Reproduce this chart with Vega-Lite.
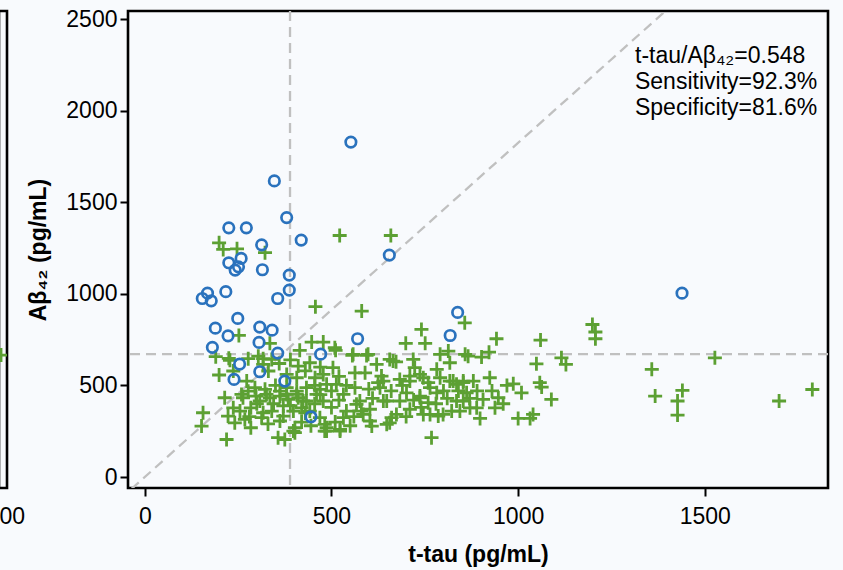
{
  "$schema": "https://vega.github.io/schema/vega-lite/v6.json",
  "autosize": {"type": "pad"},
  "padding": {"left": -3, "top": 6, "right": 14, "bottom": 5},
  "background": "#f8fafd",
  "bounds": "flush",
  "spacing": 121,
  "config": {
    "view": {"stroke": "black", "strokeWidth": 2.6, "fill": null},
    "axis": {
      "domain": false, "grid": false, "tickColor": "black", "tickWidth": 2, "tickSize": 8,
      "labelFont": "Liberation Sans", "labelFontSize": 23, "labelColor": "black",
      "titleFont": "Liberation Sans", "titleFontSize": 23, "titleFontWeight": "bold", "titleColor": "black"
    }
  },
  "datasets": {
    "pts": [
      {"t":552,"a":1829,"g":"non-AD"},{"t":347,"a":1617,"g":"non-AD"},{"t":380,"a":1417,"g":"non-AD"},{"t":225,"a":1361,"g":"non-AD"},
      {"t":272,"a":1361,"g":"non-AD"},{"t":419,"a":1294,"g":"non-AD"},{"t":313,"a":1268,"g":"non-AD"},{"t":258,"a":1194,"g":"non-AD"},
      {"t":225,"a":1170,"g":"non-AD"},{"t":251,"a":1148,"g":"non-AD"},{"t":242,"a":1130,"g":"non-AD"},{"t":315,"a":1132,"g":"non-AD"},
      {"t":387,"a":1103,"g":"non-AD"},{"t":655,"a":1212,"g":"non-AD"},{"t":387,"a":1021,"g":"non-AD"},{"t":168,"a":1004,"g":"non-AD"},
      {"t":154,"a":975,"g":"non-AD"},{"t":178,"a":962,"g":"non-AD"},{"t":217,"a":1012,"g":"non-AD"},{"t":356,"a":975,"g":"non-AD"},
      {"t":249,"a":866,"g":"non-AD"},{"t":189,"a":813,"g":"non-AD"},{"t":308,"a":819,"g":"non-AD"},{"t":341,"a":802,"g":"non-AD"},
      {"t":223,"a":771,"g":"non-AD"},{"t":570,"a":755,"g":"non-AD"},{"t":306,"a":735,"g":"non-AD"},{"t":181,"a":708,"g":"non-AD"},
      {"t":356,"a":677,"g":"non-AD"},{"t":471,"a":671,"g":"non-AD"},{"t":254,"a":617,"g":"non-AD"},{"t":308,"a":575,"g":"non-AD"},
      {"t":838,"a":899,"g":"non-AD"},{"t":818,"a":773,"g":"non-AD"},{"t":239,"a":533,"g":"non-AD"},{"t":375,"a":524,"g":"non-AD"},
      {"t":445,"a":329,"g":"non-AD"},{"t":1439,"a":1004,"g":"non-AD"},
      {"t":199,"a":1279,"g":"AD"},{"t":210,"a":1243,"g":"AD"},{"t":247,"a":1246,"g":"AD"},{"t":322,"a":1225,"g":"AD"},
      {"t":522,"a":1319,"g":"AD"},{"t":659,"a":1319,"g":"AD"},{"t":457,"a":930,"g":"AD"},{"t":581,"a":906,"g":"AD"},
      {"t":741,"a":806,"g":"AD"},{"t":252,"a":773,"g":"AD"},{"t":699,"a":730,"g":"AD"},{"t":751,"a":730,"g":"AD"},
      {"t":447,"a":737,"g":"AD"},{"t":478,"a":737,"g":"AD"},{"t":335,"a":730,"g":"AD"},{"t":415,"a":692,"g":"AD"},
      {"t":511,"a":692,"g":"AD"},{"t":190,"a":657,"g":"AD"},{"t":225,"a":648,"g":"AD"},{"t":277,"a":646,"g":"AD"},
      {"t":317,"a":646,"g":"AD"},{"t":556,"a":664,"g":"AD"},{"t":594,"a":664,"g":"AD"},
      {"t":857,"a":842,"g":"AD"},{"t":1199,"a":833,"g":"AD"},{"t":1207,"a":792,"g":"AD"},{"t":1207,"a":755,"g":"AD"},
      {"t":942,"a":755,"g":"AD"},{"t":1060,"a":748,"g":"AD"},{"t":922,"a":682,"g":"AD"},{"t":866,"a":660,"g":"AD"},
      {"t":902,"a":655,"g":"AD"},{"t":1116,"a":651,"g":"AD"},{"t":1128,"a":615,"g":"AD"},{"t":1049,"a":618,"g":"AD"},
      {"t":1527,"a":651,"g":"AD"},{"t":1358,"a":588,"g":"AD"},{"t":924,"a":542,"g":"AD"},{"t":987,"a":509,"g":"AD"},
      {"t":1058,"a":515,"g":"AD"},{"t":1063,"a":491,"g":"AD"},{"t":1009,"a":460,"g":"AD"},{"t":1367,"a":442,"g":"AD"},
      {"t":1440,"a":473,"g":"AD"},{"t":1427,"a":415,"g":"AD"},{"t":1427,"a":338,"g":"AD"},{"t":1699,"a":415,"g":"AD"},
      {"t":1788,"a":478,"g":"AD"},{"t":1089,"a":424,"g":"AD"},{"t":947,"a":433,"g":"AD"},{"t":938,"a":378,"g":"AD"},
      {"t":906,"a":424,"g":"AD"},{"t":898,"a":320,"g":"AD"},{"t":1000,"a":320,"g":"AD"},{"t":1032,"a":320,"g":"AD"},
      {"t":1040,"a":342,"g":"AD"},{"t":853,"a":515,"g":"AD"},{"t":862,"a":460,"g":"AD"},{"t":835,"a":415,"g":"AD"},
      {"t":844,"a":360,"g":"AD"},{"t":871,"a":378,"g":"AD"},{"t":826,"a":524,"g":"AD"},
      {"t":509,"a":706,"g":"AD"},{"t":558,"a":670,"g":"AD"},{"t":598,"a":670,"g":"AD"},{"t":656,"a":642,"g":"AD"},
      {"t":673,"a":629,"g":"AD"},{"t":719,"a":642,"g":"AD"},{"t":723,"a":597,"g":"AD"},{"t":782,"a":588,"g":"AD"},
      {"t":791,"a":670,"g":"AD"},{"t":813,"a":688,"g":"AD"},{"t":817,"a":624,"g":"AD"},{"t":858,"a":670,"g":"AD"},
      {"t":625,"a":515,"g":"AD"},{"t":634,"a":551,"g":"AD"},{"t":683,"a":533,"g":"AD"},{"t":710,"a":551,"g":"AD"},
      {"t":737,"a":560,"g":"AD"},{"t":759,"a":515,"g":"AD"},{"t":817,"a":524,"g":"AD"},{"t":835,"a":506,"g":"AD"},
      {"t":701,"a":460,"g":"AD"},{"t":737,"a":442,"g":"AD"},{"t":782,"a":460,"g":"AD"},{"t":639,"a":415,"g":"AD"},
      {"t":683,"a":415,"g":"AD"},{"t":759,"a":406,"g":"AD"},{"t":603,"a":370,"g":"AD"},{"t":661,"a":324,"g":"AD"},
      {"t":710,"a":370,"g":"AD"},{"t":764,"a":342,"g":"AD"},{"t":786,"a":333,"g":"AD"},{"t":822,"a":360,"g":"AD"},
      {"t":608,"a":278,"g":"AD"},{"t":656,"a":296,"g":"AD"},{"t":768,"a":215,"g":"AD"},{"t":567,"a":397,"g":"AD"},
      {"t":532,"a":324,"g":"AD"},{"t":523,"a":260,"g":"AD"},{"t":487,"a":251,"g":"AD"},{"t":563,"a":569,"g":"AD"},
      {"t":590,"a":569,"g":"AD"},{"t":630,"a":488,"g":"AD"},{"t":563,"a":488,"g":"AD"},
      {"t":228,"a":637,"g":"AD"},{"t":304,"a":660,"g":"AD"},{"t":317,"a":615,"g":"AD"},{"t":340,"a":642,"g":"AD"},
      {"t":331,"a":579,"g":"AD"},{"t":442,"a":624,"g":"AD"},{"t":411,"a":606,"g":"AD"},{"t":199,"a":557,"g":"AD"},
      {"t":237,"a":579,"g":"AD"},{"t":407,"a":542,"g":"AD"},{"t":456,"a":542,"g":"AD"},{"t":478,"a":560,"g":"AD"},
      {"t":273,"a":524,"g":"AD"},{"t":295,"a":488,"g":"AD"},{"t":322,"a":479,"g":"AD"},{"t":362,"a":469,"g":"AD"},
      {"t":380,"a":488,"g":"AD"},{"t":407,"a":469,"g":"AD"},{"t":433,"a":488,"g":"AD"},{"t":469,"a":479,"g":"AD"},
      {"t":487,"a":506,"g":"AD"},{"t":214,"a":433,"g":"AD"},{"t":263,"a":433,"g":"AD"},{"t":298,"a":442,"g":"AD"},
      {"t":335,"a":433,"g":"AD"},{"t":362,"a":442,"g":"AD"},{"t":384,"a":424,"g":"AD"},{"t":411,"a":433,"g":"AD"},
      {"t":433,"a":415,"g":"AD"},{"t":478,"a":415,"g":"AD"},{"t":237,"a":378,"g":"AD"},{"t":255,"a":360,"g":"AD"},
      {"t":284,"a":378,"g":"AD"},{"t":317,"a":351,"g":"AD"},{"t":340,"a":360,"g":"AD"},{"t":371,"a":388,"g":"AD"},
      {"t":398,"a":360,"g":"AD"},{"t":420,"a":378,"g":"AD"},{"t":469,"a":324,"g":"AD"},{"t":156,"a":351,"g":"AD"},
      {"t":152,"a":278,"g":"AD"},{"t":223,"a":333,"g":"AD"},{"t":241,"a":296,"g":"AD"},{"t":268,"a":315,"g":"AD"},
      {"t":284,"a":269,"g":"AD"},{"t":313,"a":324,"g":"AD"},{"t":362,"a":306,"g":"AD"},{"t":402,"a":269,"g":"AD"},
      {"t":402,"a":242,"g":"AD"},{"t":219,"a":205,"g":"AD"},{"t":357,"a":215,"g":"AD"},{"t":375,"a":205,"g":"AD"},
      {"t":482,"a":288,"g":"AD"},{"t":482,"a":251,"g":"AD"},{"t":259,"a":451,"g":"AD"},{"t":308,"a":415,"g":"AD"},
      {"t":277,"a":469,"g":"AD"},{"t":371,"a":333,"g":"AD"},{"t":326,"a":451,"g":"AD"},
      {"t":504,"a":597,"g":"AD"},{"t":513,"a":506,"g":"AD"},{"t":532,"a":451,"g":"AD"},{"t":576,"a":415,"g":"AD"},
      {"t":585,"a":342,"g":"AD"},{"t":603,"a":306,"g":"AD"},{"t":523,"a":251,"g":"AD"},{"t":487,"a":269,"g":"AD"},
      {"t":442,"a":360,"g":"AD"},{"t":424,"a":415,"g":"AD"},{"t":407,"a":451,"g":"AD"},{"t":460,"a":451,"g":"AD"},
      {"t":380,"a":451,"g":"AD"},{"t":398,"a":251,"g":"AD"},{"t":621,"a":615,"g":"AD"},{"t":639,"a":524,"g":"AD"},
      {"t":665,"a":633,"g":"AD"},{"t":710,"a":524,"g":"AD"},{"t":746,"a":542,"g":"AD"},{"t":764,"a":488,"g":"AD"},
      {"t":791,"a":542,"g":"AD"},{"t":853,"a":524,"g":"AD"},{"t":880,"a":524,"g":"AD"},{"t":853,"a":415,"g":"AD"},
      {"t":889,"a":378,"g":"AD"},{"t":799,"a":342,"g":"AD"},{"t":746,"a":342,"g":"AD"},{"t":674,"a":342,"g":"AD"},
      {"t":648,"a":288,"g":"AD"},{"t":737,"a":433,"g":"AD"},{"t":648,"a":415,"g":"AD"},
      {"t":345,"a":400,"g":"AD"},{"t":390,"a":390,"g":"AD"},{"t":430,"a":350,"g":"AD"},{"t":455,"a":400,"g":"AD"},
      {"t":500,"a":380,"g":"AD"},{"t":520,"a":420,"g":"AD"},{"t":540,"a":360,"g":"AD"},{"t":560,"a":330,"g":"AD"},
      {"t":470,"a":450,"g":"AD"},{"t":500,"a":470,"g":"AD"},{"t":540,"a":500,"g":"AD"},{"t":455,"a":500,"g":"AD"},
      {"t":350,"a":500,"g":"AD"},{"t":300,"a":400,"g":"AD"},{"t":280,"a":330,"g":"AD"},{"t":330,"a":290,"g":"AD"},
      {"t":420,"a":300,"g":"AD"},{"t":445,"a":280,"g":"AD"},{"t":510,"a":300,"g":"AD"},{"t":550,"a":280,"g":"AD"},
      {"t":580,"a":360,"g":"AD"},{"t":610,"a":430,"g":"AD"},{"t":600,"a":480,"g":"AD"},{"t":660,"a":470,"g":"AD"},
      {"t":690,"a":500,"g":"AD"},{"t":720,"a":420,"g":"AD"},{"t":700,"a":330,"g":"AD"},{"t":740,"a":380,"g":"AD"},
      {"t":780,"a":400,"g":"AD"},{"t":800,"a":470,"g":"AD"},{"t":810,"a":430,"g":"AD"},{"t":840,"a":470,"g":"AD"},
      {"t":870,"a":430,"g":"AD"},{"t":890,"a":470,"g":"AD"},{"t":930,"a":470,"g":"AD"},{"t":960,"a":400,"g":"AD"},
      {"t":970,"a":500,"g":"AD"},{"t":520,"a":550,"g":"AD"},{"t":470,"a":600,"g":"AD"},{"t":430,"a":580,"g":"AD"},
      {"t":380,"a":560,"g":"AD"},{"t":360,"a":620,"g":"AD"},{"t":390,"a":640,"g":"AD"}
    ]
  },
  "hconcat": [
    {
      "width": 8,
      "height": 477,
      "data": {"values": [{"t": 2005.4, "a": 666}]},
      "mark": {"type": "point", "shape": "M-1,0H1M0,-1V1", "filled": false, "stroke": "#5ca033", "strokeWidth": 2.8, "size": 196, "opacity": 1, "clip": true},
      "encoding": {
        "x": {"field": "t", "type": "quantitative", "scale": {"domain": [2000, 2021.4], "nice": false, "zero": false},
              "axis": {"values": [2000], "ticks": false, "labelAlign": "left", "labelExpr": "'00'", "labelPadding": 17, "title": null}},
        "y": {"field": "a", "type": "quantitative", "scale": {"domain": [-60, 2545], "nice": false, "zero": false}, "axis": null}
      }
    },
    {
      "width": 700,
      "height": 477,
      "layer": [
        {
          "data": {"values": [{"t": 389}]},
          "mark": {"type": "rule", "stroke": "#c0c0c0", "strokeWidth": 2.3, "strokeDash": [10, 6]},
          "encoding": {
            "x": {"field": "t", "type": "quantitative", "scale": {"domain": [-45, 1830], "nice": false, "zero": false},
                  "axis": {"values": [0, 500, 1000, 1500], "format": "d", "title": "t-tau (pg/mL)", "labelPadding": 9, "titlePadding": 15}}
          }
        },
        {
          "data": {"values": [{"a": 671}]},
          "mark": {"type": "rule", "stroke": "#c0c0c0", "strokeWidth": 2.3, "strokeDash": [10, 6]},
          "encoding": {
            "y": {"field": "a", "type": "quantitative", "scale": {"domain": [-60, 2545], "nice": false, "zero": false},
                  "axis": {"values": [0, 500, 1000, 1500, 2000, 2500], "format": "d", "title": "Aβ₄₂ (pg/mL)", "labelPadding": 3, "titlePadding": 15}}
          }
        },
        {
          "data": {"values": [{"t": -100, "a": -182.5}, {"t": 1450, "a": 2646}]},
          "mark": {"type": "line", "stroke": "#c0c0c0", "strokeWidth": 2.3, "strokeDash": [10, 6], "clip": true},
          "encoding": {
            "x": {"field": "t", "type": "quantitative", "scale": {"domain": [-45, 1830], "nice": false, "zero": false}},
            "y": {"field": "a", "type": "quantitative", "scale": {"domain": [-60, 2545], "nice": false, "zero": false}}
          }
        },
        {
          "data": {"name": "pts"},
          "transform": [{"filter": "datum.g === 'AD'"}],
          "mark": {"type": "point", "shape": "M-1,0H1M0,-1V1", "filled": false, "stroke": "#5ca033", "strokeWidth": 2.8, "size": 196, "opacity": 1},
          "encoding": {
            "x": {"field": "t", "type": "quantitative", "scale": {"domain": [-45, 1830], "nice": false, "zero": false}},
            "y": {"field": "a", "type": "quantitative", "scale": {"domain": [-60, 2545], "nice": false, "zero": false}}
          }
        },
        {
          "data": {"name": "pts"},
          "transform": [{"filter": "datum.g === 'non-AD'"}],
          "mark": {"type": "point", "shape": "circle", "filled": false, "stroke": "#2a72bd", "strokeWidth": 2.7, "size": 110, "opacity": 1},
          "encoding": {
            "x": {"field": "t", "type": "quantitative", "scale": {"domain": [-45, 1830], "nice": false, "zero": false}},
            "y": {"field": "a", "type": "quantitative", "scale": {"domain": [-60, 2545], "nice": false, "zero": false}}
          }
        },
        {
          "data": {"values": [
            {"t": 1313, "a": 2298, "label": "t-tau/Aβ₄₂=0.548"},
            {"t": 1313, "a": 2156, "label": "Sensitivity=92.3%"},
            {"t": 1313, "a": 2014, "label": "Specificity=81.6%"}
          ]},
          "mark": {"type": "text", "align": "left", "baseline": "middle", "font": "Liberation Sans", "fontSize": 23, "color": "black"},
          "encoding": {
            "x": {"field": "t", "type": "quantitative", "scale": {"domain": [-45, 1830], "nice": false, "zero": false}},
            "y": {"field": "a", "type": "quantitative", "scale": {"domain": [-60, 2545], "nice": false, "zero": false}},
            "text": {"field": "label", "type": "nominal"}
          }
        }
      ]
    }
  ]
}
